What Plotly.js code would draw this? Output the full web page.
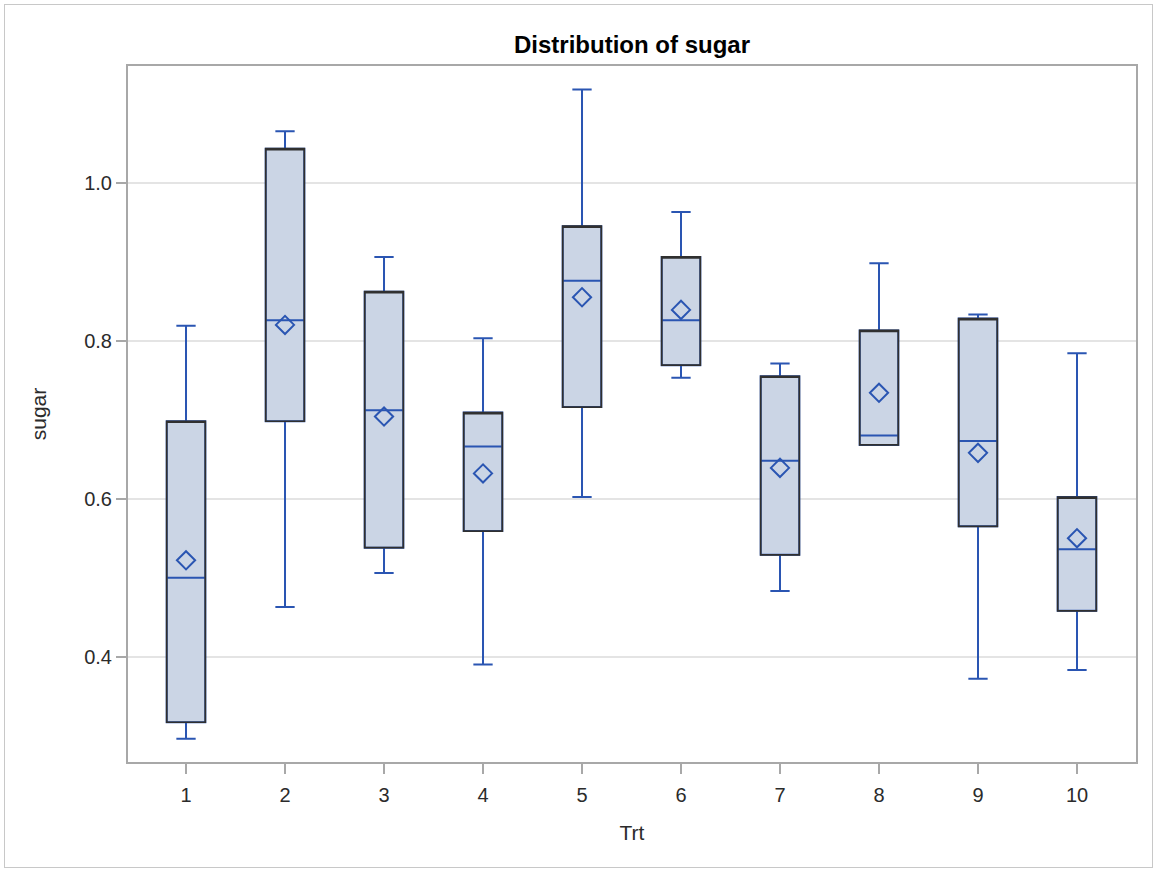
<!DOCTYPE html>
<html>
<head>
<meta charset="utf-8">
<script src="https://cdn.plot.ly/plotly-3.0.1.min.js"></script>
<style>
  html, body { margin: 0; padding: 0; background: #fff; }
  #wrap { position: relative; width: 1155px; height: 869px; }
  #chart { width: 1155px; height: 869px; }
  #frame { position: absolute; left: 4px; top: 4px; width: 1147px; height: 862px;
           border: 1px solid #c8c8c8; pointer-events: none; }
</style>
</head>
<body>
<div id="wrap"><div id="chart"></div><div id="frame"></div></div>
<script>
// Treatment categories
const categories = ['1','2','3','4','5','6','7','8','9','10'];
// Box statistics for sugar, per treatment
const lowerWhisker = [0.297, 0.464, 0.507, 0.391, 0.603, 0.754, 0.484, 0.669, 0.373, 0.384];
const q1Values     = [0.318, 0.699, 0.539, 0.560, 0.717, 0.770, 0.530, 0.669, 0.566, 0.459];
const medianValues = [0.501, 0.827, 0.713, 0.667, 0.877, 0.827, 0.649, 0.681, 0.674, 0.537];
const q3Values     = [0.699, 1.044, 0.863, 0.710, 0.946, 0.907, 0.756, 0.814, 0.829, 0.603];
const upperWhisker = [0.820, 1.066, 0.907, 0.804, 1.119, 0.964, 0.772, 0.899, 0.834, 0.785];
const meanValues   = [0.523, 0.821, 0.705, 0.633, 0.856, 0.840, 0.640, 0.735, 0.659, 0.551];
const yTicks = [0.4, 0.6, 0.8, 1.0];

const blue = '#2A55B2';
const font = 'Liberation Sans, Arial, sans-serif';

const boxTrace = {
  type: 'box', x: categories,
  q1: q1Values, median: medianValues, q3: q3Values,
  lowerfence: lowerWhisker, upperfence: upperWhisker,
  width: 0.39, whiskerwidth: 0.5,
  fillcolor: '#CBD5E5',
  line: { color: blue, width: 2 },
  boxpoints: false, hoverinfo: 'skip', showlegend: false
};
const outlineTrace = {
  type: 'box', x: categories,
  q1: q1Values, median: q3Values, q3: q3Values,
  lowerfence: q1Values, upperfence: q3Values,
  width: 0.39, whiskerwidth: 0,
  fillcolor: 'rgba(0,0,0,0)',
  line: { color: '#303030', width: 1.7 },
  boxpoints: false, hoverinfo: 'skip', showlegend: false
};
const meanTrace = {
  type: 'scatter', mode: 'markers', x: categories, y: meanValues,
  marker: { symbol: 'diamond-open', size: 14, color: blue, line: { color: blue, width: 2 } },
  hoverinfo: 'skip', showlegend: false
};

const layout = {
  width: 1155, height: 869,
  margin: { l: 128, r: 19, t: 66, b: 107 },
  paper_bgcolor: '#ffffff', plot_bgcolor: '#ffffff',
  boxmode: 'overlay',
  font: { family: font, color: '#2b2b2b' },
  title: { text: '<b>Distribution of sugar</b>', font: { family: font, size: 24, color: '#000' },
           x: 0.5, xref: 'paper', y: 0.949, yref: 'container', yanchor: 'middle' },
  xaxis: {
    type: 'category', range: [-0.586, 9.596],
    showgrid: false, zeroline: false,
    showline: true, mirror: true, linecolor: '#A8A8A8', linewidth: 2,
    ticks: 'outside', ticklen: 10, tickcolor: '#A8A8A8', tickwidth: 2,
    ticklabelstandoff: 4,
    tickfont: { family: font, size: 20, color: '#2b2b2b' },
    title: { text: 'Trt', font: { family: font, size: 21, color: '#2b2b2b' }, standoff: 20 }
  },
  yaxis: {
    range: [0.2677, 1.1487], tickvals: yTicks, tickformat: '.1f',
    showgrid: true, gridcolor: '#E4E4E4', gridwidth: 2, zeroline: false,
    showline: true, mirror: true, linecolor: '#A8A8A8', linewidth: 2,
    ticks: 'outside', ticklen: 10, tickcolor: '#A8A8A8', tickwidth: 2,
    tickfont: { family: font, size: 20, color: '#2b2b2b' },
    title: { text: 'sugar', font: { family: font, size: 21, color: '#2b2b2b' }, standoff: 32 }
  }
};

Plotly.newPlot('chart', [boxTrace, outlineTrace, meanTrace], layout, { displayModeBar: false, staticPlot: true });
</script>
</body>
</html>
